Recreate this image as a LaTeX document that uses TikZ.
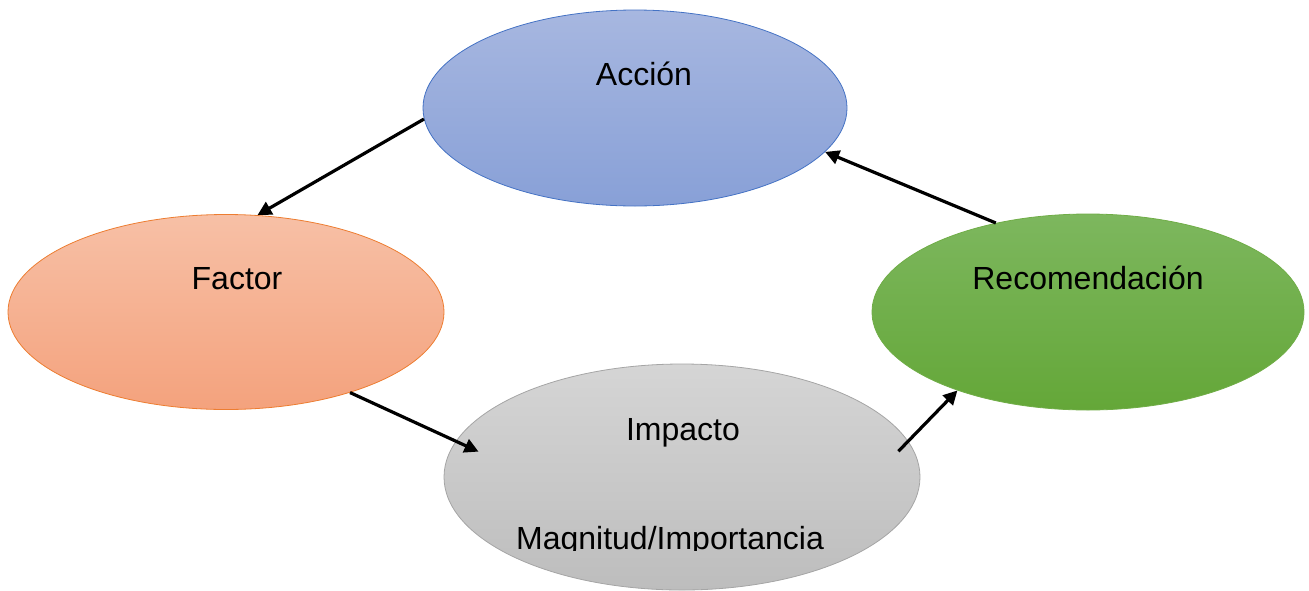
\documentclass[tikz,border=0pt]{standalone}
\usepackage{fontspec}
\setmainfont{Liberation Sans}
\usetikzlibrary{shapes.geometric,arrows.meta}
\definecolor{accTop}{HTML}{A7B7E0}
\definecolor{accBot}{HTML}{88A0D7}
\definecolor{accLine}{HTML}{4472C4}
\definecolor{facTop}{HTML}{F7C0A6}
\definecolor{facBot}{HTML}{F4A27D}
\definecolor{facLine}{HTML}{ED7D31}
\definecolor{recTop}{HTML}{7DB75E}
\definecolor{recBot}{HTML}{64A738}
\definecolor{recLine}{HTML}{70AD47}
\definecolor{impTop}{HTML}{D5D5D5}
\definecolor{impBot}{HTML}{BDBDBD}
\definecolor{impLine}{HTML}{A5A5A5}
\tikzset{
  oval/.style={ellipse, inner sep=0pt, line width=0.8pt},
  lbl/.style={anchor=base, inner sep=0pt, font=\fontsize{32}{38}\selectfont},
  conn/.style={line width=3.2pt, -{Triangle[length=14pt,width=14pt]}}
}
\begin{document}
\begin{tikzpicture}[x=1pt,y=-1pt]
\useasboundingbox (0,0) rectangle (1309,590);
\node[oval, draw=accLine, top color=accTop, bottom color=accBot, minimum width=424pt, minimum height=196pt] (acc) at (635,108) {};
\node[oval, draw=facLine, top color=facTop, bottom color=facBot, minimum width=436pt, minimum height=195pt] (fac) at (226,312) {};
\node[oval, draw=recLine, top color=recTop, bottom color=recBot, minimum width=432pt, minimum height=196pt] (rec) at (1088,312) {};
\node[oval, draw=impLine, top color=impTop, bottom color=impBot, minimum width=476pt, minimum height=226pt] (imp) at (682,477) {};
\node[lbl] (tacc) at (644,85) {Acción};
\node[lbl] (tfac) at (237,289) {Factor};
\node[lbl] (trec) at (1088,289) {Recomendación};
\node[lbl] (timp) at (683,440) {Impacto};
\begin{scope}
\clip (0,0) rectangle (1309,550);
\node[lbl] (tmag) at (670,549) {Magnitud/Importancia};
\end{scope}
\draw[conn] (acc.183) -- (fac.72);
\draw[conn, shorten >=-25pt] (fac.-33) -- (imp.171);
\draw[conn, shorten <=-14pt] (imp.9) -- (rec.211);
\draw[conn] (rec.136) -- (acc.-13);
\end{tikzpicture}
\end{document}
